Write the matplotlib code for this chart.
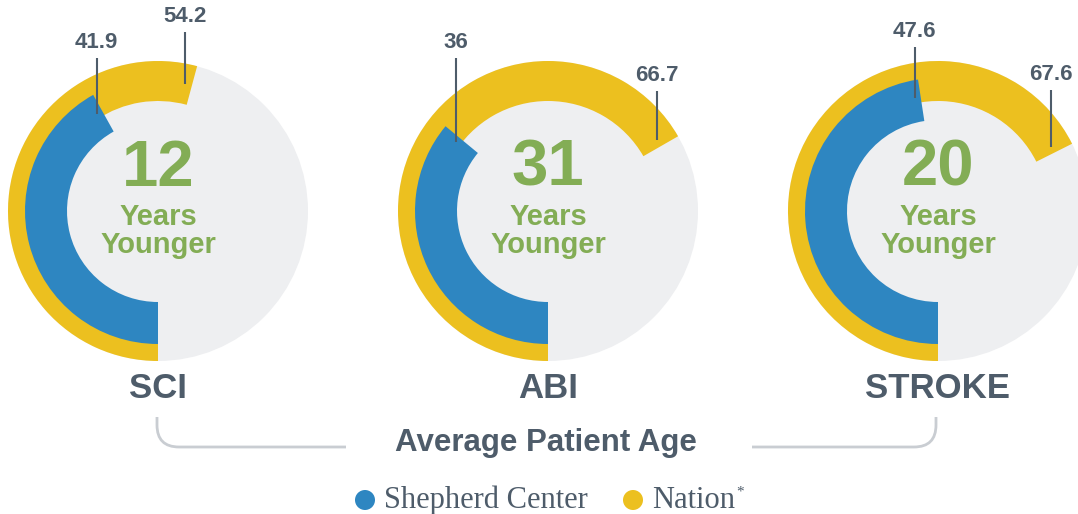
import matplotlib.pyplot as plt
from matplotlib.patches import Wedge, Circle, PathPatch
from matplotlib.path import Path
import numpy as np

# data
categories = ['SCI', 'ABI', 'STROKE']
shepherd = [41.9, 36, 47.6]
nation = [54.2, 66.7, 67.6]
younger = [12, 31, 20]

# colours
BLUE = '#2e86c1'
YELLOW = '#ecc01f'
DISK = '#eeeff1'
GREEN = '#83ad55'
SLATE = '#4e5c6a'
BRACKET = '#c9cdd2'

# layout (pixels, image coordinates)
centers_x = [158, 548, 938]
cy = 211
R_DISK = 150
R_YEL_IN = 110
R_BLUE_OUT, R_BLUE_IN = 133, 91
blue_label_top = [58, 58, 47]
nation_label_top = [32, 91, 90]

plt.rcParams['font.family'] = ['Liberation Sans', 'DejaVu Sans']

fig = plt.figure(figsize=(10.78, 5.14), dpi=100)
ax = fig.add_axes([0, 0, 1, 1])
ax.set_xlim(0, 1078)
ax.set_ylim(514, 0)
ax.set_aspect('equal')
ax.axis('off')


def leader(cx, value, r, top):
    # vertical line from inside the arc end up to the label
    ang = np.radians(90 + 3.6 * value - 3)
    x = cx + r * np.cos(ang)
    y = cy + r * np.sin(ang)
    ax.plot([x, x], [y, top], color=SLATE, lw=1.5, solid_capstyle='butt', zorder=5)
    ax.text(x, top - 5, f'{value:g}', ha='center', va='bottom', fontsize=16,
            fontweight='bold', color=SLATE, zorder=5)


for i, cx in enumerate(centers_x):
    ax.add_patch(Circle((cx, cy), R_DISK, color=DISK, lw=0, zorder=1))
    ax.add_patch(Wedge((cx, cy), R_DISK, 90, 90 + 3.6 * nation[i],
                       width=R_DISK - R_YEL_IN, color=YELLOW, lw=0, zorder=2))
    ax.add_patch(Wedge((cx, cy), R_BLUE_OUT, 90, 90 + 3.6 * shepherd[i],
                       width=R_BLUE_OUT - R_BLUE_IN, color=BLUE, lw=0, zorder=3))
    leader(cx, shepherd[i], 115, blue_label_top[i])
    leader(cx, nation[i], 130, nation_label_top[i])

    ax.text(cx, 169, str(younger[i]), ha='center', va='center', fontsize=47,
            fontweight='bold', color=GREEN, zorder=4)
    ax.text(cx, 217, 'Years', ha='center', va='center', fontsize=21,
            fontweight='bold', color=GREEN, zorder=4)
    ax.text(cx, 245, 'Younger', ha='center', va='center', fontsize=21,
            fontweight='bold', color=GREEN, zorder=4)
    ax.text(cx, 388, categories[i], ha='center', va='center', fontsize=25,
            fontweight='bold', color=SLATE)

# bracket
x0, x1, ytop, ybot, rc = 157, 936, 417, 447, 22
left = Path([(x0, ytop), (x0, ybot - rc), (x0, ybot), (x0 + rc, ybot), (346, ybot)],
            [Path.MOVETO, Path.LINETO, Path.CURVE3, Path.CURVE3, Path.LINETO])
right = Path([(752, ybot), (x1 - rc, ybot), (x1, ybot), (x1, ybot - rc), (x1, ytop)],
             [Path.MOVETO, Path.LINETO, Path.CURVE3, Path.CURVE3, Path.LINETO])
for p in (left, right):
    ax.add_patch(PathPatch(p, fill=False, edgecolor=BRACKET, lw=2))

ax.text(546, 443, 'Average Patient Age', ha='center', va='center', fontsize=22.5,
        fontweight='bold', color=SLATE)

# legend
ax.add_patch(Circle((365, 500), 10, color=BLUE, lw=0))
ax.text(384, 508, 'Shepherd Center', ha='left', va='baseline', fontsize=22,
        family='Liberation Serif', color=SLATE)
ax.add_patch(Circle((633, 500), 10, color=YELLOW, lw=0))
nat = ax.text(652, 508, 'Nation', ha='left', va='baseline', fontsize=22,
              family='Liberation Serif', color=SLATE)
fig.canvas.draw()
bb = nat.get_window_extent().transformed(ax.transData.inverted())
ax.text(bb.x1 + 1, 492, '*', ha='left', va='center', fontsize=11,
        family='Liberation Serif', color=SLATE)

fig.savefig('out.png', dpi=100)
